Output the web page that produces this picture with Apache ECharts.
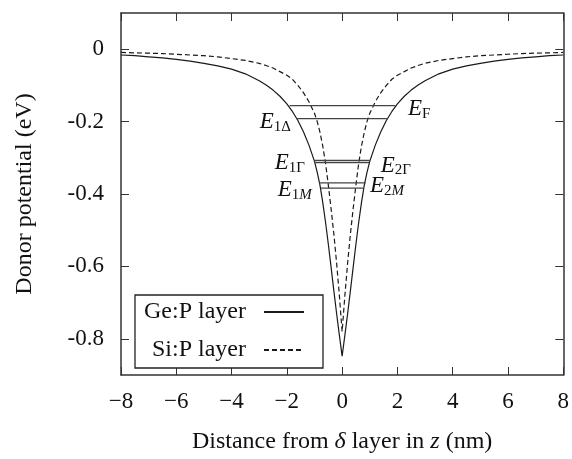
<!DOCTYPE html>
<html>
<head>
<meta charset="utf-8">
<script src="https://cdn.jsdelivr.net/npm/echarts@6/dist/echarts.min.js"></script>
<style>
  html, body { margin: 0; padding: 0; background: #fff; }
  #chart { width: 572px; height: 459px; }
</style>
</head>
<body>
<div id="chart"></div>
<script>
// distance from the delta layer (nm)
const zNm = [-8, -7.5, -7, -6.5, -6, -5.5, -5, -4.5, -4, -3.5, -3, -2.75, -2.5, -2.25, -2, -1.8, -1.6, -1.4, -1.2, -1,
  -0.9, -0.8, -0.7, -0.6, -0.5, -0.4, -0.3, -0.2, -0.1, 0, 0.1, 0.2, 0.3, 0.4, 0.5, 0.6, 0.7, 0.8, 0.9,
  1, 1.2, 1.4, 1.6, 1.8, 2, 2.25, 2.5, 2.75, 3, 3.5, 4, 4.5, 5, 5.5, 6, 6.5, 7, 7.5, 8]
// donor potential (eV), Ge:P layer
const geP = [-0.016, -0.018, -0.021, -0.024, -0.028, -0.033, -0.039, -0.046, -0.055, -0.068, -0.087, -0.099, -0.113, -0.13, -0.151, -0.172, -0.197, -0.228, -0.265, -0.31,
  -0.34, -0.376, -0.424, -0.478, -0.538, -0.602, -0.667, -0.73, -0.79, -0.848, -0.79, -0.73, -0.667, -0.602, -0.538, -0.478, -0.424, -0.376, -0.34,
  -0.31, -0.265, -0.228, -0.197, -0.172, -0.151, -0.13, -0.113, -0.099, -0.087, -0.068, -0.055, -0.046, -0.039, -0.033, -0.028, -0.024, -0.021, -0.018, -0.016]
// donor potential (eV), Si:P layer
const siP = [-0.009, -0.01, -0.011, -0.012, -0.014, -0.016, -0.018, -0.021, -0.026, -0.031, -0.039, -0.045, -0.052, -0.062, -0.072, -0.083, -0.1, -0.12, -0.145, -0.177,
  -0.2, -0.23, -0.268, -0.315, -0.375, -0.44, -0.51, -0.59, -0.68, -0.78, -0.68, -0.59, -0.51, -0.44, -0.375, -0.315, -0.268, -0.23, -0.2,
  -0.177, -0.145, -0.12, -0.1, -0.083, -0.072, -0.062, -0.052, -0.045, -0.039, -0.031, -0.026, -0.021, -0.018, -0.016, -0.014, -0.012, -0.011, -0.01, -0.009]

// subband levels inside the Ge:P well
const levelNames = ['F', '1Δ', '1Γ', '2Γ', '1M', '2M']
const levelEnergy = [-0.156, -0.192, -0.307, -0.313, -0.369, -0.384]
const levelLeft = [-1.9, -1.65, -1.0, -0.98, -0.83, -0.77]
const levelRight = [1.93, 1.65, 1.0, 0.98, 0.85, 0.77]

const xTicks = [-8, -6, -4, -2, 0, 2, 4, 6, 8]
const yTicks = [0, -0.2, -0.4, -0.6, -0.8]

const FONT = 'Liberation Serif'
// where each level's name sits
const labelSide = ['right', 'left', 'left', 'right', 'left', 'right']
const labelGap = [12, 5, 9, 11, 7, 6]
const labelShift = [0, 0, 0, 0, 4, -5]

const chart = echarts.init(document.getElementById('chart'))

const levelRich = {
  e: { fontFamily: FONT, fontStyle: 'italic', fontSize: 23, color: '#111' },
  s: { fontFamily: FONT, fontSize: 15, color: '#111', padding: [10, 0, 0, 0] },
  si: { fontFamily: FONT, fontStyle: 'italic', fontSize: 15, color: '#111', padding: [10, 0, 0, 0] }
}

function levelText(name) {
  return '{e|E}{s|' + name.replace('M', '}{si|M') + '}'
}

const levelSeries = levelNames.map((name, i) => {
  const side = labelSide[i]
  const lbl = {
    show: true, position: side, distance: labelGap[i], offset: [0, labelShift[i] + 3],
    formatter: levelText(name), rich: levelRich
  }
  const a = [levelLeft[i], levelEnergy[i]]
  const b = [levelRight[i], levelEnergy[i]]
  return {
    name: 'E' + name,
    type: 'line',
    symbol: 'circle',
    symbolSize: 1,
    itemStyle: { color: 'rgba(0,0,0,0)' },
    lineStyle: { color: '#444', width: 1.3 },
    silent: true,
    data: side === 'left' ? [{ value: a, label: lbl }, b] : [a, { value: b, label: lbl }]
  }
})

const option = {
  animation: false,
  backgroundColor: '#fff',
  textStyle: { fontFamily: FONT },
  grid: { left: 121, right: 7, top: 13, bottom: 81 },
  legend: {
    data: ['Ge:P layer', 'Si:P layer'],
    orient: 'vertical',
    left: 135,
    top: 295,
    align: 'right',
    padding: [5, 18, 6, 4],
    itemGap: 14,
    itemWidth: 40,
    itemHeight: 14,
    borderColor: '#222',
    borderWidth: 1.3,
    backgroundColor: '#fff',
    itemStyle: { opacity: 0 },
    formatter: (n) => '{t|' + n + '}',
    textStyle: {
      rich: {
        t: { fontFamily: FONT, fontSize: 24, lineHeight: 22, color: '#111', width: 107, align: 'right', padding: [0, 13, 0, 0] }
      }
    }
  },
  xAxis: [
    {
      type: 'value',
      min: -8,
      max: 8,
      interval: 2,
      name: 'Distance from {i|δ} layer in {i|z} (nm)',
      nameLocation: 'middle',
      nameGap: 55,
      nameTextStyle: {
        fontFamily: FONT, fontSize: 24, color: '#111',
        rich: { i: { fontFamily: FONT, fontSize: 24, fontStyle: 'italic', color: '#111' } }
      },
      axisLine: { show: true, onZero: false, lineStyle: { color: '#333', width: 1.5 } },
      axisTick: { inside: true, length: 8, lineStyle: { color: '#333' } },
      axisLabel: {
        margin: 15, fontSize: 23, color: '#111', fontFamily: FONT,
        customValues: xTicks,
        formatter: (v) => (v < 0 ? '\u2212' + (-v) : String(v))
      },
      splitLine: { show: false }
    },
    {
      type: 'value',
      position: 'top',
      min: -8,
      max: 8,
      interval: 2,
      axisLine: { show: true, onZero: false, lineStyle: { color: '#333', width: 1.5 } },
      axisTick: { inside: true, length: 8, lineStyle: { color: '#333' } },
      axisLabel: { show: false },
      splitLine: { show: false }
    }
  ],
  yAxis: [
    {
      type: 'value',
      min: -0.9,
      max: 0.1,
      name: 'Donor potential (eV)',
      nameLocation: 'middle',
      nameGap: 84,
      nameTextStyle: { fontFamily: FONT, fontSize: 24, color: '#111' },
      axisLine: { show: true, onZero: false, lineStyle: { color: '#333', width: 1.5 } },
      axisTick: { inside: true, length: 8, customValues: yTicks, lineStyle: { color: '#333' } },
      axisLabel: {
        margin: 17, fontSize: 23, color: '#111', fontFamily: FONT,
        customValues: yTicks,
        formatter: (v) => String(Math.round(v * 10) / 10)
      },
      splitLine: { show: false }
    },
    {
      type: 'value',
      position: 'right',
      min: -0.9,
      max: 0.1,
      axisLine: { show: true, onZero: false, lineStyle: { color: '#333', width: 1.5 } },
      axisTick: { inside: true, length: 8, customValues: yTicks, lineStyle: { color: '#333' } },
      axisLabel: { show: false },
      splitLine: { show: false }
    }
  ],
  series: [
    {
      name: 'Ge:P layer',
      type: 'line',
      symbol: 'none',
      silent: true,
      lineStyle: { color: '#1a1a1a', width: 1.2, type: 'solid' },
      itemStyle: { color: '#1a1a1a' },
      data: zNm.map((z, i) => [z, geP[i]])
    },
    {
      name: 'Si:P layer',
      type: 'line',
      symbol: 'none',
      silent: true,
      lineStyle: { color: '#1a1a1a', width: 1.2, type: [5, 3] },
      itemStyle: { color: '#1a1a1a' },
      data: zNm.map((z, i) => [z, siP[i]])
    },
    ...levelSeries
  ]
}

chart.setOption(option)
window.addEventListener('resize', () => chart.resize())
</script>
</body>
</html>
